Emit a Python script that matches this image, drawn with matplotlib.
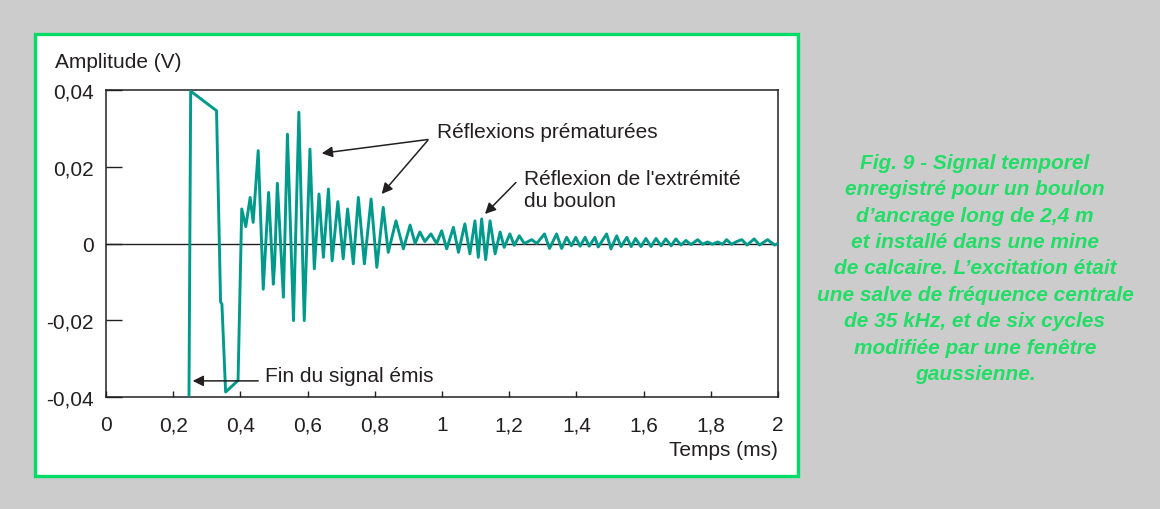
import matplotlib
matplotlib.use("Agg")
import matplotlib.pyplot as plt
from matplotlib.patches import Rectangle

# ---- data ----
time_ms = [0.247, 0.252, 0.329, 0.341, 0.345, 0.356, 0.393, 0.404, 0.416, 0.429,
           0.438, 0.453, 0.468, 0.484, 0.498, 0.502, 0.510, 0.528, 0.540, 0.558,
           0.574, 0.590, 0.607, 0.620, 0.634, 0.647, 0.662, 0.673, 0.690, 0.706,
           0.719, 0.736, 0.751, 0.769, 0.789, 0.806, 0.825, 0.840, 0.863, 0.885,
           0.905, 0.920, 0.934, 0.949, 0.967, 0.984, 0.999, 1.014, 1.034, 1.049,
           1.068, 1.083, 1.098, 1.108, 1.118, 1.130, 1.143, 1.158, 1.173, 1.185,
           1.202, 1.215, 1.230, 1.245, 1.267, 1.282, 1.305, 1.320, 1.341, 1.356,
           1.371, 1.385, 1.398, 1.411, 1.426, 1.438, 1.455, 1.465, 1.490, 1.503,
           1.520, 1.533, 1.550, 1.563, 1.576, 1.592, 1.607, 1.622, 1.637, 1.652,
           1.666, 1.682, 1.696, 1.711, 1.726, 1.741, 1.761, 1.776, 1.790, 1.805,
           1.820, 1.835, 1.847, 1.862, 1.877, 1.892, 1.908, 1.929, 1.945, 1.969,
           1.990, 2.000]
amplitude_v = [-0.0397, 0.0397, 0.0346, -0.0152, -0.0158, -0.0387, -0.0357, 0.0090, 0.0044, 0.0120,
               0.0055, 0.0242, -0.0119, 0.0133, -0.0106, -0.0050, 0.0157, -0.0140, 0.0285, -0.0201,
               0.0342, -0.0201, 0.0246, -0.0066, 0.0129, -0.0036, 0.0142, -0.0045, 0.0109, -0.0040,
               0.0090, -0.0053, 0.0120, -0.0053, 0.0116, -0.0062, 0.0094, -0.0023, 0.0059, -0.0014,
               0.0048, 0.0000, 0.0030, 0.0005, 0.0025, 0.0000, 0.0033, -0.0014, 0.0042, -0.0023,
               0.0051, -0.0027, 0.0059, -0.0036, 0.0064, -0.0042, 0.0059, -0.0027, 0.0030, -0.0010,
               0.0025, -0.0005, 0.0020, 0.0000, 0.0010, 0.0000, 0.0025, -0.0013, 0.0025, -0.0013,
               0.0016, -0.0006, 0.0016, -0.0007, 0.0016, -0.0007, 0.0016, -0.0009, 0.0025, -0.0014,
               0.0020, -0.0008, 0.0016, -0.0008, 0.0013, -0.0008, 0.0013, -0.0008, 0.0013, -0.0006,
               0.0012, -0.0006, 0.0012, -0.0004, 0.0008, -0.0003, 0.0010, -0.0002, 0.0004, -0.0002,
               0.0004, -0.0002, 0.0010, -0.0002, 0.0005, 0.0010, -0.0004, 0.0012, -0.0004, 0.0010,
               -0.0004, 0.0000]

x_ticks = [0, 0.2, 0.4, 0.6, 0.8, 1.0, 1.2, 1.4, 1.6, 1.8, 2.0]
x_tick_labels = ["0", "0,2", "0,4", "0,6", "0,8", "1", "1,2", "1,4", "1,6", "1,8", "2"]
y_ticks = [-0.04, -0.02, 0, 0.02, 0.04]
y_tick_labels = ["-0,04", "-0,02", "0", "0,02", "0,04"]

caption = ("Fig. 9 - Signal temporel\n"
           "enregistré pour un boulon\n"
           "d’ancrage long de 2,4 m\n"
           "et installé dans une mine\n"
           "de calcaire. L’excitation était\n"
           "une salve de fréquence centrale\n"
           "de 35 kHz, et de six cycles\n"
           "modifiée par une fenêtre\n"
           "gaussienne.")

# ---- style ----
plt.rcParams["font.family"] = ["Liberation Sans", "DejaVu Sans"]
TXT = "#231f20"
TEAL = "#009a8c"
GREEN = "#00dd66"
W, H = 1160, 510

fig = plt.figure(figsize=(W / 100, H / 100), dpi=100, facecolor="#cccccc")

# white panel with green border
panel = Rectangle((35 / W, 1 - 477 / H), (798 - 35) / W, (477 - 35) / H,
                  transform=fig.transFigure, facecolor="white", edgecolor=GREEN,
                  linewidth=2.4, zorder=0)
fig.add_artist(panel)

ax = fig.add_axes([106 / W, 1 - 398 / H, (778 - 106) / W, (398 - 91) / H])
ax.set_facecolor("white")
ax.set_xlim(0, 2)
ax.set_ylim(-0.04, 0.04)

for s in ax.spines.values():
    s.set_color(TXT)
    s.set_linewidth(1.1)

ax.axhline(0, color=TXT, lw=1.0, zorder=1)
ax.plot(time_ms, amplitude_v, color=TEAL, lw=2.1, zorder=3,
        solid_joinstyle="round", solid_capstyle="round")

ax.set_xticks(x_ticks)
ax.set_xticklabels(x_tick_labels)
ax.set_yticks(y_ticks)
ax.set_yticklabels(y_tick_labels)
ax.tick_params(axis="x", direction="in", length=4.5, width=1.0, color=TXT,
               labelsize=15, labelcolor=TXT, pad=13)
ax.tick_params(axis="y", direction="in", length=11.5, width=1.0, color=TXT,
               labelsize=15, labelcolor=TXT, pad=9)

fig.text(55 / W, 1 - 63 / H, "Amplitude (V)", fontsize=15, color=TXT, ha="left", va="center")
fig.text(778 / W, 1 - 451 / H, "Temps (ms)", fontsize=15, color=TXT, ha="right", va="center")

arrow = dict(arrowstyle="-|>", color=TXT, lw=1.1, mutation_scale=16, shrinkA=0, shrinkB=0)

# "Réflexions prématurées"
ax.text(0.985, 0.0291, "Réflexions prématurées", fontsize=15, color=TXT, ha="left", va="center")
ax.annotate("", xy=(0.642, 0.0235), xytext=(0.958, 0.0271), arrowprops=arrow)
ax.annotate("", xy=(0.8205, 0.0129), xytext=(0.958, 0.0269), arrowprops=arrow)

# "Réflexion de l'extrémité du boulon"
ax.text(1.244, 0.0141, "Réflexion de l'extrémité\ndu boulon", fontsize=15, color=TXT,
        ha="left", va="center", linespacing=1.25)
ax.annotate("", xy=(1.128, 0.0077), xytext=(1.220, 0.0159), arrowprops=arrow)

# "Fin du signal émis"
ax.text(0.473, -0.0345, "Fin du signal émis", fontsize=15, color=TXT, ha="left", va="center")
ax.annotate("", xy=(0.258, -0.0358), xytext=(0.453, -0.0358), arrowprops=arrow)

# caption
fig.text(975 / W, 1 - 269 / H, caption, fontsize=15, color="#22dd66", fontweight="bold",
         fontstyle="italic", ha="center", va="center", linespacing=1.49)

fig.savefig("out.png", dpi=100, facecolor=fig.get_facecolor())
